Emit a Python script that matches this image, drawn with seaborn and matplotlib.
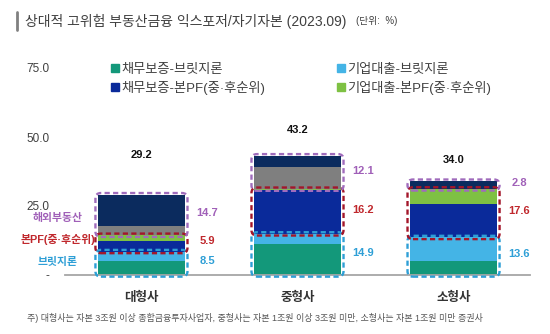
import matplotlib
matplotlib.use("Agg")
import matplotlib.pyplot as plt
from matplotlib.patches import FancyBboxPatch
from matplotlib.lines import Line2D
import seaborn as sns
import pandas as pd
import numpy as np

# ---------------- data ----------------
categories = ['대형사', '중형사', '소형사']
debt_bridge = [5.0, 11.2, 5.0]      # 채무보증-브릿지론
loan_bridge = [3.5, 3.7, 8.6]       # 기업대출-브릿지론
debt_pf = [4.0, 15.9, 12.0]         # 채무보증-본PF(중·후순위)
loan_pf = [1.9, 0.3, 5.6]           # 기업대출-본PF(중·후순위)
overseas_a = [3.4, 8.0, 0.0]        # 해외부동산 (gray)
overseas_b = [11.3, 4.1, 2.8]       # 해외부동산 (navy)
bridge_tot = [8.5, 14.9, 13.6]
pf_tot = [5.9, 16.2, 17.6]
overseas_tot = [14.7, 12.1, 2.8]
totals = [29.2, 43.2, 34.0]
yticks = [0, 25, 50, 75]
ytick_labels = ['-', '25.0', '50.0', '75.0']
total_label_offset = [14.3, 9.3, 7.7]

layers = [
    ('채무보증-브릿지론', debt_bridge, '#13987a'),
    ('기업대출-브릿지론', loan_bridge, '#44b4e6'),
    ('채무보증-본PF(중·후순위)', debt_pf, '#0a2a9a'),
    ('기업대출-본PF(중·후순위)', loan_pf, '#7ec143'),
    ('해외부동산a', overseas_a, '#7f7f7f'),
    ('해외부동산b', overseas_b, '#0b2b5e'),
]

sns.set_theme(style="white")
plt.rcParams['font.family'] = ['Liberation Sans', 'Noto Sans CJK KR', 'DejaVu Sans']

W, H = 550, 334
fig = plt.figure(figsize=(W / 100, H / 100), dpi=100)
ax_left, ax_right = 65, 530
y0_px, y75_px = 275, 68
ax_bottom = 1 - y0_px / H
h75 = (y0_px - y75_px) / H
ymax = 80
ax = fig.add_axes([ax_left / W, ax_bottom, (ax_right - ax_left) / W, h75 * ymax / 75])

# stacked bars via cumulative sums (drawn from top layer to bottom)
cum = np.cumsum([np.array(v) for _, v, _ in layers], axis=0)
bar_w = 0.56
for i in range(len(layers) - 1, -1, -1):
    df = pd.DataFrame({'cat': categories, 'val': cum[i]})
    sns.barplot(data=df, x='cat', y='val', color=layers[i][2], width=bar_w,
                saturation=1, ax=ax, linewidth=0, zorder=2)

ax.set_xlim(-0.49, 2.49)
ax.set_ylim(0, ymax)
ax.set_xlabel('')
ax.set_ylabel('')
for s in ['top', 'right', 'left']:
    ax.spines[s].set_visible(False)
ax.spines['bottom'].set_color('#a6a6a6')
ax.spines['bottom'].set_linewidth(1.3)
ax.set_yticks(yticks)
ax.set_yticklabels(ytick_labels, fontsize=8.5, color='#404040')
ax.tick_params(axis='y', length=0, pad=11)
ax.tick_params(axis='x', length=0, pad=12)
for lab in ax.get_xticklabels():
    lab.set_fontsize(9)
    lab.set_color('#333333')
    lab.set_fontweight('bold')
ax.grid(False)

# dashed rounded boxes
px_x = (ax_right - ax_left) / 2.98
px_y = (y0_px - y75_px) / 75
maspect = px_x / px_y
box_colors = ['#2e9fd6', '#a3162a', '#a06cbc']
label_colors = ['#2e9fd6', '#c0282d', '#a060b8']
groups = [bridge_tot, pf_tot, overseas_tot]
bw = 0.59
for j in range(len(categories)):
    base = 0.0
    for g, grp in enumerate(groups):
        val = grp[j]
        y_lo = base - 0.6
        hh = val + 1.2
        box = FancyBboxPatch((j - bw / 2, y_lo), bw, hh,
                             boxstyle="round,pad=0,rounding_size=0.035",
                             mutation_aspect=maspect, fill=False,
                             ec=box_colors[g], lw=1.7, ls=(0, (2.2, 1.4)),
                             zorder=4, clip_on=False)
        ax.add_patch(box)
        ax.text(j + 0.42, base + val / 2 + 0.7, f'{val:.1f}', ha='center', va='center',
                fontsize=8, fontweight='bold', color=label_colors[g], zorder=5)
        base += val
    ax.text(j, totals[j] + total_label_offset[j], f'{totals[j]:.1f}', ha='center',
            va='center', fontsize=8, fontweight='bold', color='#111111')

# left labels
left_labels = ['브릿지론', '본PF(중·후순위)', '해외부동산']
left_pos = [4.7, 12.7, 20.8]
for g in range(3):
    ax.text(-0.535, left_pos[g], left_labels[g], ha='center', va='center',
            fontsize=7.8, fontweight='bold', color=label_colors[g], clip_on=False)

# legends
def handle(c):
    return Line2D([0], [0], marker='s', color='none', markerfacecolor=c,
                  markeredgecolor=c, markersize=6)

leg_kw = dict(loc='upper left', frameon=False, fontsize=9.5, handlelength=0.6,
              handletextpad=0.2, labelspacing=0.38, borderpad=0, labelcolor='#404040')
leg1 = fig.legend([handle(layers[0][2]), handle(layers[2][2])],
                  [layers[0][0], layers[2][0]],
                  bbox_to_anchor=(104 / W, 1 - 57 / H), **leg_kw)
leg2 = fig.legend([handle(layers[1][2]), handle(layers[3][2])],
                  [layers[1][0], layers[3][0]],
                  bbox_to_anchor=(330 / W, 1 - 57 / H), **leg_kw)

# title
fig.add_artist(Line2D([17 / W, 17 / W], [1 - 12 / H, 1 - 30 / H], color='#808080', lw=2))
fig.text(25 / W, 1 - 21 / H, '상대적 고위험 부동산금융 익스포저/자기자본 (2023.09)',
         fontsize=10, color='#404040', va='center', ha='left')
fig.text(356 / W, 1 - 21.5 / H, '(단위:  %)', fontsize=7, color='#404040', va='center', ha='left')

# footnote
fig.text(27 / W, 1 - 318 / H,
         '주) 대형사는 자본 3조원 이상 종합금융투자사업자, 중형사는 자본 1조원 이상 3조원 미만, 소형사는 자본 1조원 미만 증권사',
         fontsize=6.5, color='#555555', va='center', ha='left')

fig.savefig('out.png', dpi=100)
